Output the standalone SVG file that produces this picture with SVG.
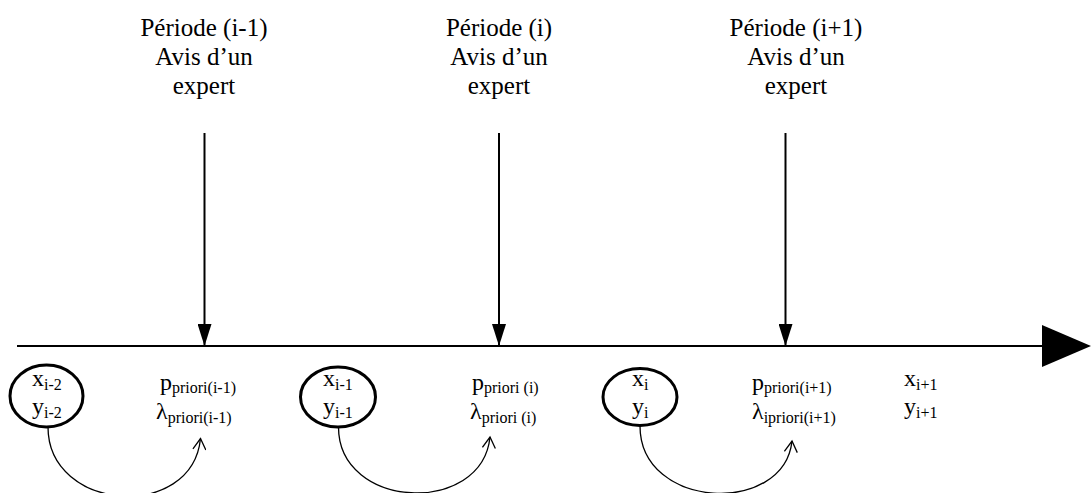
<svg xmlns="http://www.w3.org/2000/svg" width="1091" height="493" viewBox="0 0 1091 493">
<defs>
<marker id="tri" markerUnits="userSpaceOnUse" markerWidth="22" markerHeight="14" refX="22" refY="7" orient="auto" viewBox="0 0 22 14">
<path d="M0,0 L22,7 L0,14 Z" fill="#000"/>
</marker>
<marker id="vee" markerUnits="userSpaceOnUse" markerWidth="14" markerHeight="14" refX="12" refY="7" orient="auto" viewBox="0 0 14 14">
<path d="M1,0.5 L12,7 L1,13.5" fill="none" stroke="#000" stroke-width="1.3"/>
</marker>
</defs>
<g id="timeline">
<line x1="17" y1="346" x2="1042" y2="346" stroke="#000" stroke-width="2"/>
<path d="M1042,325 L1091,346 L1042,367 Z" fill="#000"/>
</g>
<g id="period1">
<text font-family="Liberation Serif" font-size="25" text-anchor="middle" x="204" y="36">Période (i-1)</text>
<text font-family="Liberation Serif" font-size="25" text-anchor="middle" x="204" y="65">Avis d’un</text>
<text font-family="Liberation Serif" font-size="25" text-anchor="middle" x="204" y="94">expert</text>
</g>
<g id="period2">
<text font-family="Liberation Serif" font-size="25" text-anchor="middle" x="499" y="36">Période (i)</text>
<text font-family="Liberation Serif" font-size="25" text-anchor="middle" x="499" y="65">Avis d’un</text>
<text font-family="Liberation Serif" font-size="25" text-anchor="middle" x="499" y="94">expert</text>
</g>
<g id="period3">
<text font-family="Liberation Serif" font-size="25" text-anchor="middle" x="796" y="36">Période (i+1)</text>
<text font-family="Liberation Serif" font-size="25" text-anchor="middle" x="796" y="65">Avis d’un</text>
<text font-family="Liberation Serif" font-size="25" text-anchor="middle" x="796" y="94">expert</text>
</g>
<g id="state1">
<ellipse cx="46.5" cy="396" rx="36.5" ry="31" fill="none" stroke="#000" stroke-width="3"/>
<text font-family="Liberation Serif" font-size="24" x="32" y="386">x<tspan font-family="Liberation Serif" font-size="16" dy="4">i-2</tspan></text>
<text font-family="Liberation Serif" font-size="24" x="32" y="414">y<tspan font-family="Liberation Serif" font-size="16" dy="4">i-2</tspan></text>
</g>
<g id="prior1">
<text font-family="Liberation Serif" font-size="24" x="160" y="390">p<tspan font-family="Liberation Serif" font-size="16" dy="3">priori(i-1)</tspan></text>
<text font-family="Liberation Serif" font-size="24" x="156" y="419">λ<tspan font-family="Liberation Serif" font-size="16" dy="4">priori(i-1)</tspan></text>
</g>
<g id="state2">
<ellipse cx="338" cy="397" rx="37.5" ry="30" fill="none" stroke="#000" stroke-width="3"/>
<text font-family="Liberation Serif" font-size="24" x="323" y="386">x<tspan font-family="Liberation Serif" font-size="16" dy="4">i-1</tspan></text>
<text font-family="Liberation Serif" font-size="24" x="323" y="414">y<tspan font-family="Liberation Serif" font-size="16" dy="4">i-1</tspan></text>
</g>
<g id="prior2">
<text font-family="Liberation Serif" font-size="24" x="472" y="390">p<tspan font-family="Liberation Serif" font-size="16" dy="3">priori (i)</tspan></text>
<text font-family="Liberation Serif" font-size="24" x="470" y="419">λ<tspan font-family="Liberation Serif" font-size="16" dy="4">priori (i)</tspan></text>
</g>
<g id="state3">
<ellipse cx="640" cy="397" rx="37" ry="28.5" fill="none" stroke="#000" stroke-width="3"/>
<text font-family="Liberation Serif" font-size="24" x="632" y="386">x<tspan font-family="Liberation Serif" font-size="16" dy="4">i</tspan></text>
<text font-family="Liberation Serif" font-size="24" x="632" y="414">y<tspan font-family="Liberation Serif" font-size="16" dy="4">i</tspan></text>
</g>
<g id="prior3">
<text font-family="Liberation Serif" font-size="24" x="752" y="390">p<tspan font-family="Liberation Serif" font-size="16" dy="3">priori(i+1)</tspan></text>
<text font-family="Liberation Serif" font-size="24" x="752" y="419">λ<tspan font-family="Liberation Serif" font-size="16" dy="4">ipriori(i+1)</tspan></text>
</g>
<g id="state4">
<text font-family="Liberation Serif" font-size="24" x="904" y="386">x<tspan font-family="Liberation Serif" font-size="16" dy="4">i+1</tspan></text>
<text font-family="Liberation Serif" font-size="24" x="904" y="414">y<tspan font-family="Liberation Serif" font-size="16" dy="4">i+1</tspan></text>
</g>
<g id="connectors" fill="none" stroke="#000">
<line x1="204.5" y1="133" x2="204.5" y2="346" stroke-width="2" marker-end="url(#tri)"/>
<line x1="499" y1="133" x2="499" y2="346" stroke-width="2" marker-end="url(#tri)"/>
<line x1="785.5" y1="133" x2="785.5" y2="346" stroke-width="2" marker-end="url(#tri)"/>
<path d="M48,427 C48,512 192,522 200.5,438.5" stroke-width="1.3" marker-end="url(#vee)"/>
<path d="M338.5,427 C338.5,510 482,516 490,437" stroke-width="1.3" marker-end="url(#vee)"/>
<path d="M640,426 C640,510 784,516 792,441" stroke-width="1.3" marker-end="url(#vee)"/>
</g>
</svg>
